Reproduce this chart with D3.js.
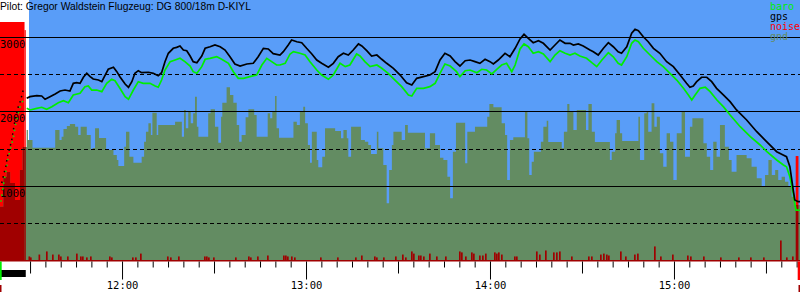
<!DOCTYPE html>
<html>
<head>
<meta charset="utf-8">
<script src="https://cdn.jsdelivr.net/npm/d3@7"></script>
<style>
  html, body { margin: 0; padding: 0; background: #fff; }
  svg { display: block; }
</style>
</head>
<body>
<svg id="chart" width="800" height="300"></svg>
<script>
// all times are minutes after 11:00, altitudes in metres

const title = 'Pilot: Gregor Waldstein Flugzeug: DG 800/18m D-KIYL';
const legendNames = ['baro', 'gps', 'noise', 'gnd'];
const altGrid = [500, 1000, 1500, 2000, 2500, 3000];
const altLabels = [1000, 2000, 3000];

const timeStart = 20.2;
const timeEnd = 281.1;
const skyStart = 29.66;

// engine climb (dotted part)
const climbGps = [[20.77, 1038], [21.52, 1172], [22.08, 1256], [22.6, 1390], [23.48, 1524], [24.03, 1614], [24.55, 1748], [25.11, 1882], [25.66, 1975], [26.18, 2060], [26.97, 2150], [27.49, 2243], [27.82, 2283]];
const climbBaro = [[20.5, 787], [21.3, 1011], [21.8, 1118], [22.9, 1386], [24.6, 1654], [25.1, 1788], [26.2, 1975], [26.7, 2056], [27.8, 2150]];

const gpsTrack = [[28.9, 2172], [30.0, 2194], [32.2, 2207], [33.8, 2203], [34.9, 2159], [36.5, 2194], [38.2, 2230], [39.8, 2270], [41.4, 2283], [43.0, 2270], [44.1, 2373], [45.2, 2381], [46.3, 2373], [47.4, 2454], [48.5, 2507], [49.6, 2462], [50.6, 2431], [52.3, 2417], [53.4, 2395], [54.5, 2484], [55.5, 2561], [57.2, 2588], [58.3, 2529], [59.3, 2462], [61.0, 2364], [62.1, 2320], [63.2, 2395], [64.2, 2507], [65.3, 2542], [66.4, 2515], [68.6, 2521], [70.2, 2507], [71.8, 2475], [72.9, 2515], [74.0, 2663], [75.1, 2775], [76.7, 2842], [77.8, 2855], [78.9, 2873], [80.0, 2819], [81.1, 2810], [82.2, 2739], [83.2, 2663], [84.4, 2649], [86.0, 2739], [87.1, 2842], [88.7, 2863], [90.3, 2886], [92.0, 2863], [93.6, 2819], [95.2, 2729], [96.8, 2632], [98.5, 2605], [100.7, 2632], [102.8, 2641], [104.4, 2729], [106.1, 2842], [107.7, 2833], [109.3, 2771], [111.5, 2752], [112.6, 2797], [114.2, 2886], [115.3, 2953], [117.0, 2930], [118.6, 2917], [120.2, 2842], [121.9, 2766], [123.5, 2685], [125.1, 2641], [127.3, 2588], [128.9, 2641], [130.5, 2729], [132.2, 2775], [133.8, 2752], [135.4, 2819], [137.1, 2900], [138.2, 2873], [139.8, 2810], [141.4, 2739], [143.1, 2752], [144.7, 2695], [146.3, 2641], [148.5, 2574], [150.7, 2484], [152.8, 2381], [154.5, 2350], [156.1, 2440], [158.3, 2462], [160.4, 2484], [162.1, 2529], [163.7, 2685], [165.3, 2775], [167.0, 2739], [168.6, 2663], [170.2, 2605], [171.9, 2676], [173.5, 2685], [175.1, 2663], [176.7, 2641], [178.4, 2695], [180.0, 2663], [181.1, 2632], [182.7, 2685], [184.9, 2775], [186.5, 2729], [188.2, 2842], [189.8, 2967], [191.1, 3029], [192.5, 2976], [194.1, 2917], [195.8, 2944], [197.4, 2909], [199.6, 2819], [201.2, 2886], [202.8, 2953], [204.5, 2909], [206.1, 2909], [207.2, 2886], [208.8, 2900], [210.4, 2873], [212.6, 2819], [213.7, 2796], [215.3, 2752], [217.0, 2842], [218.6, 2917], [220.2, 2863], [221.8, 2796], [222.9, 2775], [224.6, 2863], [226.2, 3043], [227.3, 3096], [228.4, 3078], [230.0, 2997], [231.6, 2930], [233.3, 2842], [235.4, 2775], [237.6, 2663], [239.8, 2596], [242.0, 2484], [244.1, 2373], [245.2, 2320], [246.3, 2337], [247.4, 2395], [249.0, 2454], [250.7, 2454], [252.3, 2395], [253.9, 2306], [256.1, 2217], [258.3, 2127], [260.4, 2016], [263.7, 1882], [267.0, 1725], [270.2, 1591], [273.5, 1457], [275.6, 1413], [276.7, 1390], [277.8, 1256], [278.9, 944], [279.4, 810], [280.5, 788], [281.1, 788]];

const baroTrack = [[28.9, 2038], [30.0, 2016], [32.2, 2038], [33.8, 2052], [35.4, 2025], [37.1, 2060], [39.2, 2113], [40.9, 2140], [42.5, 2113], [44.1, 2217], [46.3, 2239], [47.9, 2328], [49.0, 2337], [50.1, 2283], [51.7, 2283], [53.4, 2261], [55.0, 2373], [56.6, 2427], [57.7, 2408], [59.3, 2306], [61.0, 2194], [62.1, 2159], [63.7, 2283], [65.3, 2395], [66.9, 2373], [69.1, 2373], [70.8, 2337], [71.8, 2320], [72.9, 2417], [74.0, 2551], [75.7, 2663], [77.3, 2685], [78.9, 2708], [80.5, 2663], [82.2, 2605], [83.2, 2529], [84.4, 2507], [86.0, 2596], [87.1, 2695], [88.7, 2708], [90.9, 2729], [92.5, 2695], [94.7, 2641], [96.3, 2529], [97.9, 2440], [99.6, 2440], [101.7, 2462], [103.9, 2484], [105.6, 2618], [107.2, 2708], [108.8, 2663], [110.4, 2618], [111.5, 2618], [113.2, 2641], [114.8, 2766], [115.9, 2797], [118.0, 2775], [119.7, 2752], [121.3, 2663], [123.5, 2551], [125.1, 2484], [127.3, 2427], [128.9, 2484], [131.1, 2641], [132.8, 2596], [134.3, 2618], [136.5, 2766], [137.6, 2739], [139.2, 2663], [140.9, 2596], [143.1, 2618], [144.7, 2574], [146.8, 2507], [149.0, 2417], [151.2, 2328], [153.4, 2217], [154.5, 2203], [156.1, 2306], [158.3, 2306], [160.4, 2328], [162.1, 2373], [163.7, 2507], [165.3, 2632], [167.0, 2605], [169.1, 2529], [170.2, 2462], [171.9, 2542], [173.5, 2551], [175.7, 2515], [177.3, 2561], [178.9, 2551], [180.6, 2498], [182.2, 2561], [183.8, 2618], [185.4, 2641], [187.1, 2529], [188.2, 2618], [189.8, 2833], [191.1, 2900], [192.5, 2863], [194.1, 2775], [195.8, 2797], [197.4, 2766], [199.6, 2663], [201.2, 2752], [202.8, 2810], [204.5, 2775], [206.1, 2752], [207.7, 2775], [209.3, 2739], [211.5, 2708], [213.2, 2649], [214.8, 2596], [216.5, 2685], [218.6, 2783], [220.2, 2729], [221.8, 2641], [222.9, 2618], [224.6, 2729], [226.2, 2909], [227.3, 2953], [228.4, 2930], [230.0, 2842], [232.2, 2752], [234.4, 2663], [236.5, 2596], [238.7, 2507], [240.9, 2417], [243.1, 2306], [244.7, 2217], [245.8, 2150], [246.9, 2217], [248.5, 2306], [250.2, 2320], [251.8, 2261], [254.0, 2150], [256.1, 2060], [258.3, 1949], [261.6, 1792], [264.9, 1658], [268.1, 1547], [270.3, 1457], [273.5, 1346], [275.7, 1279], [276.7, 1256], [277.8, 1122], [278.9, 900], [279.5, 740], [279.8, 676], [281.1, 676]];

// ground elevation, step starts
const ground = [[20.2, 720], [21.3, 1118], [22.4, 1185], [23.5, 1038], [25.1, 810], [26.7, 1212], [27.6, 1520], [28.9, 1748], [29.3, 1614], [30.8, 1511], [38.2, 1748], [39.6, 1614], [40.3, 1658], [40.9, 1761], [42.0, 1801], [43.0, 1828], [44.7, 1792], [45.7, 1681], [46.5, 1792], [48.5, 1681], [49.8, 1480], [50.4, 1507], [51.2, 1771], [52.5, 1641], [54.8, 1480], [57.2, 1413], [58.3, 1346], [58.8, 1266], [60.7, 1524], [61.3, 1725], [62.4, 1390], [63.7, 1310], [66.4, 1390], [67.2, 1591], [67.8, 1725], [68.6, 1838], [69.4, 1681], [69.9, 1979], [71.3, 1681], [71.8, 1815], [77.3, 1859], [79.5, 1658], [80.2, 2016], [80.8, 1771], [81.6, 1993], [82.4, 1838], [83.2, 1971], [83.8, 2194], [84.4, 1792], [84.9, 1658], [88.1, 1971], [88.9, 2025], [90.3, 1792], [91.4, 1578], [92.3, 1926], [92.7, 2113], [94.1, 2320], [95.2, 2217], [96.3, 2113], [97.4, 1815], [98.2, 1591], [99.0, 1681], [100.3, 1918], [101.2, 2025], [103.1, 1949], [103.9, 1658], [107.5, 1971], [108.3, 1904], [109.0, 1993], [109.9, 2203], [110.4, 1771], [111.2, 1645], [115.9, 1859], [117.0, 1815], [118.0, 1993], [119.1, 2060], [119.7, 1838], [120.6, 1547], [121.3, 1310], [121.9, 1725], [123.5, 1346], [124.0, 1248], [125.3, 1390], [126.2, 1771], [129.5, 1734], [131.4, 1637], [132.2, 1748], [133.3, 1637], [133.8, 1390], [134.7, 1792], [137.9, 1614], [139.2, 1591], [140.3, 1547], [141.2, 1426], [143.1, 1725], [143.6, 1503], [145.2, 1279], [146.3, 766], [147.1, 1212], [148.0, 1547], [148.5, 1725], [151.2, 1614], [152.3, 1815], [153.2, 1712], [158.8, 1503], [160.4, 1704], [162.1, 1547], [163.7, 1377], [164.8, 1346], [166.1, 1122], [167.0, 833], [167.9, 1457], [168.9, 1846], [171.9, 1302], [172.6, 1725], [175.1, 1792], [179.1, 1926], [179.8, 2096], [181.1, 2052], [183.8, 1838], [184.9, 1681], [185.6, 1078], [186.5, 1614], [187.6, 1650], [191.4, 1993], [192.2, 1637], [192.8, 1145], [193.6, 1323], [194.3, 1457], [196.6, 1591], [197.4, 1792], [198.5, 1872], [199.0, 1587], [203.4, 1503], [204.1, 1725], [205.2, 2096], [205.9, 1993], [207.2, 1748], [208.3, 2016], [211.3, 1748], [212.1, 2096], [213.2, 1725], [214.2, 1587], [219.1, 1346], [219.7, 1457], [220.8, 1704], [221.3, 1882], [222.4, 1704], [223.1, 1600], [228.4, 1926], [228.9, 1346], [230.3, 1971], [231.1, 1993], [231.6, 1725], [232.7, 2105], [233.6, 1792], [234.4, 1926], [235.4, 1436], [236.5, 1256], [237.6, 1704], [238.7, 1591], [239.8, 1078], [240.9, 1704], [242.5, 1993], [243.6, 1390], [245.2, 1792], [246.0, 1904], [249.6, 1570], [250.7, 1390], [251.8, 1212], [252.8, 1591], [253.9, 1390], [255.0, 1815], [256.6, 1524], [257.9, 1346], [258.8, 1189], [260.4, 1413], [263.7, 1369], [265.3, 1256], [267.0, 1101], [268.6, 988], [269.7, 1145], [270.8, 1346], [271.9, 1145], [273.0, 1212], [274.0, 1078], [275.1, 1122], [276.2, 1055], [277.3, 988], [278.4, 854], [279.4, 743], [281.1, 743]];

// noise level (0..1000): long runs [from, to, level] and short spikes [time, level]
const noiseRuns = [[20.2, 28.2, 1000], [28.2, 28.6, 966], [279.7, 280.6, 438]];
const noiseSpikes = [[29.49, 17], [29.98, 13], [32.76, 25], [35.2, 38], [37.16, 25], [39.12, 25], [39.77, 17], [42.05, 17], [44.99, 29], [46.29, 17], [46.94, 17], [48.25, 13], [49.55, 17], [55.75, 17], [56.4, 13], [63.25, 13], [64.23, 13], [65.86, 29], [74.66, 17], [75.64, 13], [78.25, 17], [86.73, 17], [87.38, 17], [88.04, 13], [89.67, 13], [96.84, 13], [101.08, 17], [101.73, 13], [104.02, 17], [107.28, 21], [112.5, 21], [113.15, 21], [113.8, 17], [115.1, 17], [116.08, 13], [124.56, 13], [130.11, 13], [135.98, 13], [137.93, 21], [142.17, 17], [142.83, 13], [145.11, 13], [149.02, 17], [151.3, 25], [152.28, 13], [154.24, 38], [154.89, 29], [156.52, 21], [157.17, 21], [158.15, 17], [160.11, 29], [162.39, 17], [165.33, 17], [169.89, 38], [170.55, 34], [171.85, 17], [173.81, 34], [174.46, 29], [176.42, 21], [177.4, 21], [178.37, 29], [181.31, 34], [181.96, 29], [182.61, 34], [183.59, 25], [187.83, 17], [188.48, 17], [195.0, 38], [195.98, 25], [197.94, 42], [200.55, 34], [201.53, 34], [202.51, 38], [206.42, 17], [211.96, 17], [212.94, 17], [215.88, 25], [216.86, 29], [217.83, 25], [218.49, 21], [222.4, 38], [224.03, 17], [226.97, 25], [227.95, 29], [233.49, 59], [235.45, 17], [239.36, 25], [244.25, 21], [245.23, 17], [249.47, 17], [255.01, 13], [260.88, 13], [264.8, 13], [269.04, 13], [274.58, 84], [276.53, 13], [278.49, 17]];

// strip under the axis
const motorRuns = [[20.2, 28.6]];
const takeoffMark = [20.2, 20.75];
const landingMark = [280.35, 281.1];

const skyColor = '#599df8';
const gndColor = '#638c62';
const noiseColor = '#ff0000';
const noiseDark = '#a00000';
const baroColor = '#00ee00';
const gpsColor = '#000000';
const legendColors = [baroColor, gpsColor, noiseColor, gndColor];

const width = 800;
const height = 300;
const mono = '"DejaVu Sans Mono", monospace';

const base = new Date(2021, 5, 1, 11, 0, 0);
const at = (m) => new Date(base.getTime() + m * 60000);

const x = d3.scaleTime().domain([at(timeStart), at(timeEnd)]).range([0, width]);
const y = d3.scaleLinear().domain([0, 3000]).range([260.5, 36.5]);
const yNoise = d3.scaleLinear().domain([0, 1000]).range([260.5, 22]);

const svg = d3.select('#chart');
const defs = svg.append('defs');

//
// SKY
//

svg.append('rect')
  .attr('x', x(at(skyStart)))
  .attr('y', 0)
  .attr('width', width - x(at(skyStart)))
  .attr('height', y(0))
  .attr('fill', skyColor);

//
// NOISE (bright where above ground)
//

const noiseBars = noiseRuns
  .map(([a, b, v]) => ({ a, b, v }))
  .concat(noiseSpikes.map(([t, v]) => ({ a: t, b: t + 0.55, v })));

function drawNoise(g, color) {
  g.selectAll('rect')
    .data(noiseBars)
    .join('rect')
    .attr('x', (d) => x(at(d.a)))
    .attr('width', (d) => Math.max(1, x(at(d.b)) - x(at(d.a))))
    .attr('y', (d) => yNoise(d.v))
    .attr('height', (d) => yNoise(0) - yNoise(d.v))
    .attr('fill', color);
}

drawNoise(svg.append('g'), noiseColor);

//
// GROUND
//

const gndArea = d3.area()
  .curve(d3.curveStepAfter)
  .x((d) => x(at(d[0])))
  .y0(y(0))
  .y1((d) => y(d[1]));

svg.append('path')
  .datum(ground)
  .attr('fill', gndColor)
  .attr('d', gndArea);

defs.append('clipPath')
  .attr('id', 'gnd-clip')
  .append('path')
  .datum(ground)
  .attr('d', gndArea);

drawNoise(svg.append('g').attr('clip-path', 'url(#gnd-clip)'), noiseDark);

// noise baseline
svg.append('rect')
  .attr('x', 0)
  .attr('y', 260)
  .attr('width', width)
  .attr('height', 1.5)
  .attr('fill', noiseDark);

//
// GRID
//

svg.append('g')
  .selectAll('line')
  .data(altGrid)
  .join('line')
  .attr('x1', 0)
  .attr('x2', width)
  .attr('y1', (d) => Math.round(y(d)) + 0.5)
  .attr('y2', (d) => Math.round(y(d)) + 0.5)
  .attr('stroke', '#000')
  .attr('stroke-width', 1)
  .attr('stroke-dasharray', (d) => (d % 1000 === 0 ? null : '4,3'));

svg.append('g')
  .selectAll('text')
  .data(altLabels)
  .join('text')
  .attr('x', 0)
  .attr('y', (d) => Math.round(y(d)) + 11)
  .attr('font-family', mono)
  .attr('font-size', 10.5)
  .attr('fill', '#000')
  .text((d) => d);

//
// BARO / GPS
//

const line = d3.line()
  .curve(d3.curveLinear)
  .x((d) => x(at(d[0])))
  .y((d) => y(d[1]));

svg.append('path')
  .datum(climbBaro)
  .attr('fill', 'none')
  .attr('stroke', baroColor)
  .attr('stroke-width', 1.5)
  .attr('stroke-dasharray', '1.5,4.5')
  .attr('d', line);

svg.append('path')
  .datum(climbGps)
  .attr('fill', 'none')
  .attr('stroke', gpsColor)
  .attr('stroke-width', 1.5)
  .attr('stroke-dasharray', '1.5,4')
  .attr('d', line);

svg.append('path')
  .datum(baroTrack)
  .attr('fill', 'none')
  .attr('stroke', baroColor)
  .attr('stroke-width', 1.7)
  .attr('d', line);

svg.append('path')
  .datum(gpsTrack)
  .attr('fill', 'none')
  .attr('stroke', gpsColor)
  .attr('stroke-width', 1.7)
  .attr('d', line);

//
// TIME AXIS
//

const tickTimes = d3.timeMinute.every(5).range(at(29), at(timeEnd));
const hhmm = d3.timeFormat('%H:%M');

const xAxis = svg.append('g')
  .attr('transform', 'translate(0,261.5)')
  .call(
    d3.axisBottom(x)
      .tickValues(tickTimes)
      .tickSizeOuter(0)
      .tickFormat((d) => (d.getMinutes() === 0 ? hhmm(d) : '')),
  )
  .attr('font-family', mono)
  .attr('font-size', 10.5);

xAxis.select('.domain').remove();

xAxis.selectAll('.tick line')
  .attr('stroke', '#000')
  .attr('y2', (d) => (d.getMinutes() === 0 ? 18 : d.getMinutes() % 30 === 0 ? 12 : 6));

xAxis.selectAll('.tick text')
  .attr('y', 20)
  .attr('fill', '#000');

// motor / takeoff / landing strip
svg.append('g')
  .selectAll('rect')
  .data(motorRuns)
  .join('rect')
  .attr('x', (d) => x(at(d[0])))
  .attr('width', (d) => x(at(d[1])) - x(at(d[0])))
  .attr('y', 270)
  .attr('height', 7)
  .attr('fill', '#000');

svg.append('rect')
  .attr('x', x(at(takeoffMark[0])))
  .attr('width', x(at(takeoffMark[1])) - x(at(takeoffMark[0])))
  .attr('y', 261.5)
  .attr('height', 18.5)
  .attr('fill', '#00ee00');

svg.append('rect')
  .attr('x', x(at(landingMark[0])))
  .attr('width', x(at(landingMark[1])) - x(at(landingMark[0])))
  .attr('y', 261.5)
  .attr('height', 18.5)
  .attr('fill', noiseColor);

svg.append('g')
  .selectAll('rect')
  .data([takeoffMark[0], landingMark[1]])
  .join('rect')
  .attr('x', (d, i) => x(at(d)) - (i ? 1.5 : 0))
  .attr('width', 1.5)
  .attr('y', 285)
  .attr('height', 7)
  .attr('fill', noiseDark);

//
// TITLE / LEGEND
//

svg.append('text')
  .attr('x', 0)
  .attr('y', 10)
  .attr('font-family', '"Liberation Sans", Arial, sans-serif')
  .attr('font-size', 10.3)
  .attr('fill', '#000')
  .text(title);

svg.append('g')
  .selectAll('text')
  .data(legendNames)
  .join('text')
  .attr('x', 770)
  .attr('y', (d, i) => 10 + i * 10)
  .attr('font-family', mono)
  .attr('font-size', 10)
  .attr('fill', (d, i) => legendColors[i])
  .text((d) => d);
</script>
</body>
</html>
